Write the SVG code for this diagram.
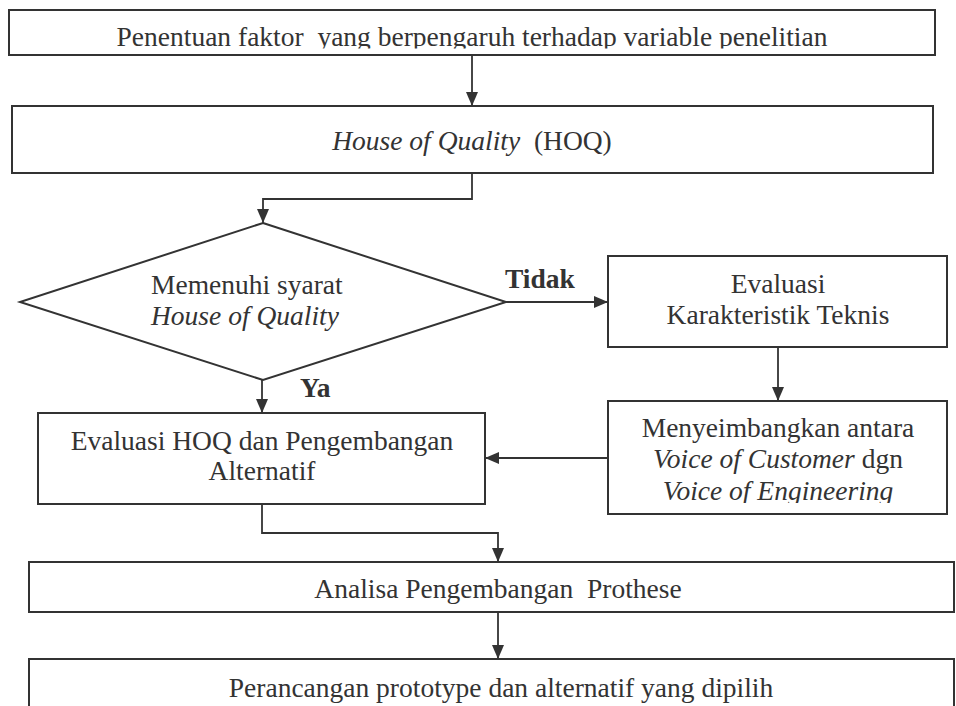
<svg xmlns="http://www.w3.org/2000/svg" width="956" height="706" viewBox="0 0 956 706">
<style>
.box{fill:#fff;stroke:#333;stroke-width:2}
.ln{fill:none;stroke:#333;stroke-width:1.8}
text{font-family:"Liberation Serif","Times New Roman",serif;font-size:27.5px;fill:#333}
.c{text-anchor:middle}
.i{font-style:italic}
.b{font-weight:bold}
</style>
<defs>
<marker id="ah" markerUnits="userSpaceOnUse" markerWidth="14" markerHeight="12" refX="14" refY="6" orient="auto">
<path d="M0,0 L14,6 L0,12 z" fill="#333"/>
</marker>
<clipPath id="clip1"><rect x="0" y="0" width="956" height="48.5"/></clipPath>
<clipPath id="clip2"><rect x="600" y="395" width="356" height="108"/></clipPath>
</defs>
<rect width="956" height="706" fill="#fff"/>
<g id="connectors">
<path class="ln" d="M472,55 V106" marker-end="url(#ah)"/>
<path class="ln" d="M472,173 V199 H263 V223" marker-end="url(#ah)"/>
<path class="ln" d="M506,302 H608" marker-end="url(#ah)"/>
<path class="ln" d="M778,347 V401" marker-end="url(#ah)"/>
<path class="ln" d="M608,458 H485" marker-end="url(#ah)"/>
<path class="ln" d="M262,380 V413" marker-end="url(#ah)"/>
<path class="ln" d="M262,504 V533 H498 V562" marker-end="url(#ah)"/>
<path class="ln" d="M498,612 V659" marker-end="url(#ah)"/>
<text class="b" x="505" y="288">Tidak</text>
<text class="b" x="300" y="397">Ya</text>
</g>
<g id="n1">
<rect class="box" x="9" y="10" width="926" height="45"/>
<text class="c" x="472" y="46" xml:space="preserve" clip-path="url(#clip1)">Penentuan faktor  yang berpengaruh terhadap variable penelitian</text>
</g>
<g id="n2">
<rect class="box" x="12" y="106" width="921" height="67"/>
<text class="c" x="472" y="150" xml:space="preserve"><tspan class="i">House of Quality</tspan>  (HOQ)</text>
</g>
<g id="n3">
<polygon class="box" points="263,223 506,302 263,380 20,302"/>
<text x="151" y="294">Memenuhi syarat</text>
<text class="i" x="151" y="325">House of Quality</text>
</g>
<g id="n4">
<rect class="box" x="608" y="256" width="339" height="91"/>
<text class="c" x="778" y="293">Evaluasi</text>
<text class="c" x="778" y="324">Karakteristik Teknis</text>
</g>
<g id="n5">
<rect class="box" x="608" y="401" width="339" height="113"/>
<text class="c" x="778" y="437">Menyeimbangkan antara</text>
<text class="c" x="778" y="468"><tspan class="i">Voice of Customer</tspan> dgn</text>
<text class="c i" x="778" y="500" clip-path="url(#clip2)">Voice of Engineering</text>
</g>
<g id="n6">
<rect class="box" x="38" y="413" width="447" height="91"/>
<text class="c" x="262" y="450">Evaluasi HOQ dan Pengembangan</text>
<text class="c" x="262" y="480">Alternatif</text>
</g>
<g id="n7">
<rect class="box" x="29" y="562" width="925" height="50"/>
<text class="c" x="498" y="598" xml:space="preserve">Analisa Pengembangan  Prothese</text>
</g>
<g id="n8">
<rect class="box" x="29" y="659" width="925" height="70"/>
<text class="c" x="501" y="697">Perancangan prototype dan alternatif yang dipilih</text>
</g>
</svg>
